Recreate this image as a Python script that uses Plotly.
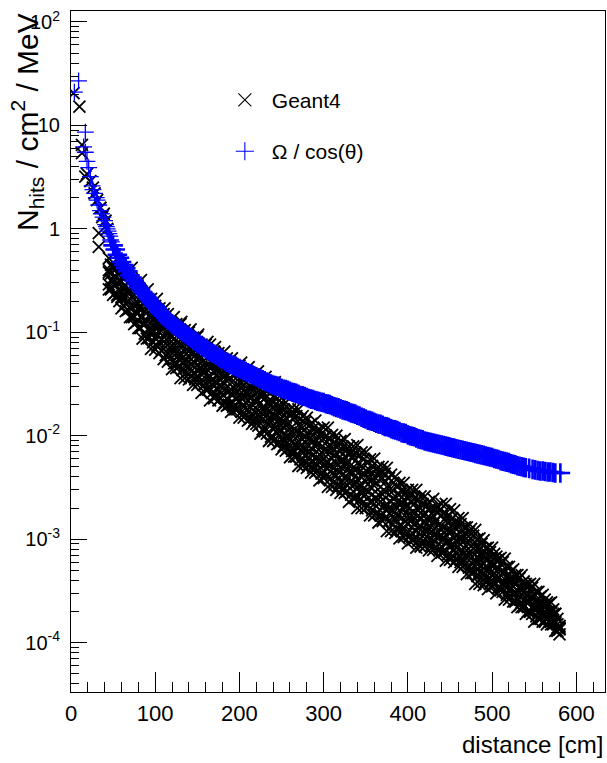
import plotly.graph_objects as go

# ---------------- data ----------------
# Geant4: sparse points at small distance
g4_near_dist = [3, 10, 13, 13, 17, 19, 23, 26, 28, 31, 33, 33, 35, 37, 39, 41, 43]
g4_near_val = [20.5, 15.2, 6.5, 5.4, 3.2, 3.4, 2.9, 2.5, 2.2, 1.9, 0.91, 0.67, 1.6, 1.3, 1.4, 1.2, 1.0]

# Geant4: dense band, five samples per distance (top of band -> bottom of band)
g4_dist = [45, 50, 55, 60, 65, 70, 75, 80, 85, 90, 95, 100,
           105, 110, 115, 120, 125, 130, 135, 140, 145, 150, 155, 160, 165, 170, 175, 180, 185, 190, 195, 200,
           205, 210, 215, 220, 225, 230, 235, 240, 245, 250, 255, 260, 265, 270, 275, 280, 285, 290, 295, 300,
           305, 310, 315, 320, 325, 330, 335, 340, 345, 350, 355, 360, 365, 370, 375, 380, 385, 390, 395, 400,
           405, 410, 415, 420, 425, 430, 435, 440, 445, 450, 455, 460, 465, 470, 475, 480, 485, 490, 495, 500,
           505, 510, 515, 520, 525, 530, 535, 540, 545, 550, 555, 560, 565, 570, 575, 580]
g4_row1 = [5.2e-1, 4.4e-1, 4.2e-1, 4.1e-1, 3.4e-1, 3.2e-1, 2.7e-1, 2.7e-1, 2.2e-1, 2.1e-1, 2.1e-1, 1.8e-1,
           1.7e-1, 1.5e-1, 1.5e-1, 1.2e-1, 1.2e-1, 1.2e-1, 1.05e-1, 1.0e-1, 8.9e-2, 9.1e-2, 7.6e-2, 7.6e-2, 7.6e-2, 6.5e-2, 6.3e-2, 5.5e-2, 5.6e-2, 4.7e-2, 4.7e-2, 4.7e-2,
           3.9e-2, 3.7e-2, 3.2e-2, 3.3e-2, 2.8e-2, 2.8e-2, 2.8e-2, 2.4e-2, 2.3e-2, 2.1e-2, 2.1e-2, 1.8e-2, 1.8e-2, 1.8e-2, 1.55e-2, 1.5e-2, 1.3e-2, 1.4e-2, 1.15e-2, 1.2e-2,
           1.2e-2, 1.02e-2, 1.0e-2, 8.9e-3, 9.3e-3, 7.9e-3, 7.9e-3, 8.1e-3, 6.9e-3, 6.9e-3, 5.9e-3, 6.0e-3, 5.0e-3, 5.0e-3, 4.9e-3, 4.2e-3, 4.0e-3, 3.5e-3, 3.5e-3, 3.0e-3,
           3.0e-3, 3.0e-3, 2.6e-3, 2.6e-3, 2.3e-3, 2.45e-3, 2.1e-3, 2.2e-3, 2.2e-3, 1.95e-3, 1.9e-3, 1.6e-3, 1.6e-3, 1.3e-3, 1.26e-3, 1.23e-3, 1.02e-3, 9.8e-4, 8.3e-4, 8.3e-4,
           6.8e-4, 6.6e-4, 6.5e-4, 5.4e-4, 5.1e-4, 4.5e-4, 4.5e-4, 3.7e-4, 3.7e-4, 3.7e-4, 3.1e-4, 2.9e-4, 2.45e-4, 2.45e-4, 1.9e-4, 1.4e-4]
g4_row2 = [4.0e-1, 4.2e-1, 3.7e-1, 3.1e-1, 2.8e-1, 2.4e-1, 2.3e-1, 1.9e-1, 1.9e-1, 1.8e-1, 1.5e-1, 1.4e-1,
           1.2e-1, 1.2e-1, 1.05e-1, 1.05e-1, 1.0e-1, 8.5e-2, 8.1e-2, 7.1e-2, 7.2e-2, 6.3e-2, 6.5e-2, 6.2e-2, 5.2e-2, 5.0e-2, 4.4e-2, 4.5e-2, 3.9e-2, 4.1e-2, 3.9e-2, 3.3e-2,
           3.1e-2, 2.6e-2, 2.7e-2, 2.3e-2, 2.4e-2, 2.3e-2, 2.0e-2, 1.9e-2, 1.7e-2, 1.7e-2, 1.5e-2, 1.55e-2, 1.5e-2, 1.26e-2, 1.2e-2, 1.05e-2, 1.07e-2, 9.3e-3, 9.5e-3, 9.3e-3,
           7.9e-3, 7.8e-3, 6.8e-3, 7.1e-3, 6.3e-3, 6.5e-3, 6.2e-3, 5.4e-3, 5.1e-3, 4.6e-3, 4.6e-3, 4.0e-3, 4.1e-3, 3.9e-3, 3.2e-3, 3.1e-3, 2.6e-3, 2.7e-3, 2.4e-3, 2.45e-3,
           2.3e-3, 2.0e-3, 2.0e-3, 1.8e-3, 1.9e-3, 1.7e-3, 1.8e-3, 1.7e-3, 1.5e-3, 1.5e-3, 1.3e-3, 1.3e-3, 1.1e-3, 1.1e-3, 1.02e-3, 8.5e-4, 8.1e-4, 6.9e-4, 7.1e-4, 6.0e-4,
           6.2e-4, 5.8e-4, 4.8e-4, 4.6e-4, 3.9e-4, 4.0e-4, 3.4e-4, 3.5e-4, 3.3e-4, 2.8e-4, 2.7e-4, 2.3e-4, 2.3e-4, 2.0e-4, 1.9e-4, 1.45e-4]
g4_row3 = [3.8e-1, 3.2e-1, 3.0e-1, 2.4e-1, 2.5e-1, 2.1e-1, 1.8e-1, 1.7e-1, 1.4e-1, 1.3e-1, 1.1e-1, 1.15e-1,
           1.0e-1, 9.1e-2, 8.9e-2, 7.4e-2, 7.2e-2, 6.2e-2, 6.5e-2, 5.8e-2, 5.2e-2, 5.4e-2, 4.5e-2, 4.5e-2, 3.8e-2, 4.1e-2, 3.6e-2, 3.3e-2, 3.4e-2, 2.8e-2, 2.8e-2, 2.5e-2,
           2.5e-2, 2.2e-2, 2.0e-2, 2.1e-2, 1.7e-2, 1.7e-2, 1.5e-2, 1.55e-2, 1.35e-2, 1.26e-2, 1.26e-2, 1.07e-2, 1.05e-2, 8.9e-3, 9.3e-3, 8.3e-3, 7.6e-3, 7.9e-3, 6.6e-3, 6.6e-3,
           5.6e-3, 6.0e-3, 5.4e-3, 5.0e-3, 5.1e-3, 4.4e-3, 4.4e-3, 3.8e-3, 4.0e-3, 3.6e-3, 3.2e-3, 3.3e-3, 2.7e-3, 2.7e-3, 2.2e-3, 2.3e-3, 2.1e-3, 1.9e-3, 1.95e-3, 1.7e-3,
           1.7e-3, 1.45e-3, 1.55e-3, 1.45e-3, 1.35e-3, 1.4e-3, 1.2e-3, 1.26e-3, 1.1e-3, 1.17e-3, 1.02e-3, 9.3e-4, 9.3e-4, 7.8e-4, 7.6e-4, 6.3e-4, 6.5e-4, 5.8e-4, 5.2e-4, 5.5e-4,
           4.5e-4, 4.5e-4, 3.8e-4, 4.0e-4, 3.5e-4, 3.2e-4, 3.2e-4, 2.7e-4, 2.7e-4, 2.3e-4, 2.4e-4, 2.1e-4, 1.9e-4, 1.95e-4, 1.55e-4, 1.35e-4]
g4_row4 = [2.9e-1, 3.0e-1, 2.3e-1, 2.2e-1, 1.9e-1, 1.7e-1, 1.4e-1, 1.3e-1, 1.2e-1, 9.5e-2, 1.0e-1, 8.7e-2,
           8.1e-2, 6.9e-2, 6.3e-2, 6.3e-2, 5.1e-2, 5.4e-2, 4.8e-2, 4.6e-2, 4.0e-2, 3.8e-2, 3.9e-2, 3.2e-2, 3.3e-2, 3.0e-2, 2.8e-2, 2.5e-2, 2.3e-2, 2.5e-2, 2.0e-2, 2.1e-2,
           1.9e-2, 1.8e-2, 1.55e-2, 1.5e-2, 1.5e-2, 1.2e-2, 1.3e-2, 1.15e-2, 1.07e-2, 9.3e-3, 8.9e-3, 9.1e-3, 7.2e-3, 7.6e-3, 6.8e-3, 6.5e-3, 5.6e-3, 5.4e-3, 5.5e-3, 4.6e-3,
           4.8e-3, 4.3e-3, 4.1e-3, 3.6e-3, 3.5e-3, 3.5e-3, 2.9e-3, 3.1e-3, 2.75e-3, 2.7e-3, 2.3e-3, 2.2e-3, 2.2e-3, 1.8e-3, 1.9e-3, 1.7e-3, 1.55e-3, 1.35e-3, 1.3e-3, 1.4e-3,
           1.15e-3, 1.2e-3, 1.12e-3, 1.12e-3, 1.0e-3, 9.8e-4, 1.02e-3, 8.5e-4, 9.1e-4, 8.3e-4, 7.9e-4, 6.9e-4, 6.6e-4, 6.6e-4, 5.2e-4, 5.4e-4, 4.8e-4, 4.7e-4, 4.1e-4, 4.0e-4,
           4.1e-4, 3.4e-4, 3.5e-4, 3.2e-4, 3.0e-4, 2.6e-4, 2.45e-4, 2.5e-4, 2.0e-4, 2.1e-4, 1.95e-4, 1.9e-4, 1.7e-4, 1.6e-4, 1.6e-4, 1.2e-4]
g4_row5 = [2.6e-1, 2.3e-1, 2.2e-1, 1.7e-1, 1.6e-1, 1.4e-1, 1.2e-1, 1.1e-1, 8.7e-2, 8.7e-2, 6.9e-2, 6.8e-2,
           6.3e-2, 5.5e-2, 5.2e-2, 4.4e-2, 4.5e-2, 3.6e-2, 3.6e-2, 3.5e-2, 3.1e-2, 3.1e-2, 2.6e-2, 2.8e-2, 2.2e-2, 2.3e-2, 2.2e-2, 1.95e-2, 1.95e-2, 1.7e-2, 1.8e-2, 1.5e-2,
           1.5e-2, 1.4e-2, 1.3e-2, 1.3e-2, 1.05e-2, 1.1e-2, 8.9e-3, 8.9e-3, 8.3e-3, 7.4e-3, 7.2e-3, 6.2e-3, 6.3e-3, 5.1e-3, 5.1e-3, 4.9e-3, 4.4e-3, 4.4e-3, 3.7e-3, 3.9e-3,
           3.2e-3, 3.2e-3, 3.0e-3, 2.8e-3, 2.8e-3, 2.3e-3, 2.5e-3, 2.0e-3, 2.0e-3, 2.0e-3, 1.7e-3, 1.7e-3, 1.45e-3, 1.5e-3, 1.2e-3, 1.2e-3, 1.15e-3, 1.02e-3, 1.05e-3, 9.1e-4,
           9.8e-4, 8.3e-4, 8.5e-4, 8.5e-4, 7.8e-4, 7.9e-4, 6.9e-4, 7.4e-4, 6.2e-4, 6.3e-4, 6.0e-4, 5.4e-4, 5.4e-4, 4.6e-4, 4.7e-4, 3.7e-4, 3.7e-4, 3.6e-4, 3.3e-4, 3.5e-4,
           3.0e-4, 3.2e-4, 2.6e-4, 2.6e-4, 2.5e-4, 2.2e-4, 2.2e-4, 1.9e-4, 2.0e-4, 1.6e-4, 1.7e-4, 1.6e-4, 1.5e-4, 1.5e-4, 1.3e-4, 1.35e-4]

# Geant4: band samples at the half-way distances (four per distance, top -> bottom)
g4_half_dist = [47.5, 52.5, 57.5, 62.5, 67.5, 72.5, 77.5, 82.5, 87.5, 92.5, 97.5,
                102.5, 107.5, 112.5, 117.5, 122.5, 127.5, 132.5, 137.5, 142.5, 147.5, 152.5, 157.5, 162.5, 167.5, 172.5, 177.5, 182.5, 187.5, 192.5, 197.5,
                202.5, 207.5, 212.5, 217.5, 222.5, 227.5, 232.5, 237.5, 242.5, 247.5, 252.5, 257.5, 262.5, 267.5, 272.5, 277.5, 282.5, 287.5, 292.5, 297.5,
                302.5, 307.5, 312.5, 317.5, 322.5, 327.5, 332.5, 337.5, 342.5, 347.5, 352.5, 357.5, 362.5, 367.5, 372.5, 377.5, 382.5, 387.5, 392.5, 397.5,
                402.5, 407.5, 412.5, 417.5, 422.5, 427.5, 432.5, 437.5, 442.5, 447.5, 452.5, 457.5, 462.5, 467.5, 472.5, 477.5, 482.5, 487.5, 492.5, 497.5,
                502.5, 507.5, 512.5, 517.5, 522.5, 527.5, 532.5, 537.5, 542.5, 547.5, 552.5, 557.5, 562.5, 567.5, 572.5, 577.5]
g4_half1 = [0.45, 0.41, 0.38, 0.33, 0.30, 0.27, 0.24, 0.22, 0.20, 0.19, 0.17,
            0.155, 0.14, 0.13, 0.12, 0.112, 0.105, 0.097, 0.090, 0.083, 0.079, 0.074, 0.069, 0.066, 0.061, 0.056, 0.052, 0.050, 0.046, 0.044, 0.042,
            0.038, 0.033, 0.030, 0.028, 0.027, 0.025, 0.024, 0.022, 0.020, 0.019, 0.018, 0.017, 0.0165, 0.0155, 0.0145, 0.0135, 0.0125, 0.0118, 0.0112, 0.0105,
            0.0100, 0.0093, 0.0087, 0.0080, 0.0078, 0.0074, 0.0070, 0.0068, 0.0064, 0.0059, 0.0055, 0.0051, 0.0047, 0.0045, 0.0043, 0.0039, 0.0035, 0.0032, 0.0030, 0.0028,
            0.0027, 0.0025, 0.0024, 0.0022, 0.0021, 0.0020, 0.0019, 0.0019, 0.0018, 0.0017, 0.0016, 0.00145, 0.0014, 0.0013, 0.00118, 0.00108, 0.00100, 0.00090, 0.00082, 0.00075,
            0.00072, 0.00064, 0.00060, 0.00054, 0.00049, 0.00045, 0.00042, 0.00039, 0.00036, 0.00034, 0.00031, 0.00028, 0.00026, 0.00024, 0.00021, 0.00017]
g4_half2 = [0.37, 0.35, 0.31, 0.27, 0.245, 0.22, 0.195, 0.17, 0.16, 0.145, 0.13,
            0.12, 0.11, 0.10, 0.092, 0.087, 0.080, 0.073, 0.068, 0.063, 0.060, 0.056, 0.053, 0.049, 0.046, 0.043, 0.040, 0.038, 0.035, 0.034, 0.031,
            0.029, 0.026, 0.023, 0.022, 0.020, 0.019, 0.018, 0.017, 0.0155, 0.0145, 0.0138, 0.0128, 0.0122, 0.0112, 0.0105, 0.0100, 0.0093, 0.0088, 0.0082, 0.0078,
            0.0074, 0.0069, 0.0065, 0.0060, 0.0057, 0.0054, 0.0052, 0.0048, 0.0045, 0.0043, 0.0040, 0.0037, 0.0035, 0.0032, 0.0029, 0.0027, 0.0025, 0.0023, 0.0022, 0.0021,
            0.0020, 0.0018, 0.0017, 0.0017, 0.0016, 0.00155, 0.0015, 0.0014, 0.0013, 0.00125, 0.0012, 0.00110, 0.00102, 0.00098, 0.00090, 0.00082, 0.00075, 0.00070, 0.00064, 0.00060,
            0.00056, 0.00052, 0.00047, 0.00043, 0.00040, 0.00037, 0.00034, 0.00031, 0.00030, 0.00027, 0.00025, 0.00024, 0.00022, 0.00020, 0.00019, 0.00015]
g4_half3 = [0.32, 0.29, 0.25, 0.22, 0.20, 0.175, 0.155, 0.14, 0.12, 0.11, 0.10,
            0.095, 0.085, 0.078, 0.072, 0.065, 0.060, 0.057, 0.054, 0.049, 0.046, 0.045, 0.040, 0.037, 0.035, 0.033, 0.030, 0.028, 0.027, 0.025, 0.023,
            0.023, 0.021, 0.019, 0.017, 0.016, 0.0145, 0.0135, 0.0135, 0.012, 0.0112, 0.0105, 0.0098, 0.0088, 0.0082, 0.0080, 0.0075, 0.0069, 0.0065, 0.0061, 0.0057,
            0.0055, 0.0052, 0.0049, 0.0045, 0.0042, 0.0040, 0.0036, 0.0034, 0.0033, 0.0031, 0.0029, 0.0027, 0.0025, 0.0023, 0.0021, 0.0020, 0.0019, 0.0017, 0.0016, 0.0015,
            0.0015, 0.0014, 0.0013, 0.00128, 0.00122, 0.00117, 0.0011, 0.00105, 0.0010, 0.00095, 0.00090, 0.00083, 0.00078, 0.00074, 0.00068, 0.00062, 0.00058, 0.00055, 0.00050, 0.00047,
            0.00046, 0.00042, 0.00038, 0.00036, 0.00034, 0.00030, 0.00028, 0.00026, 0.00024, 0.00022, 0.00021, 0.00020, 0.00019, 0.00018, 0.00016, 0.00014]
g4_half4 = [0.26, 0.24, 0.20, 0.18, 0.165, 0.14, 0.125, 0.11, 0.097, 0.088, 0.08,
            0.074, 0.066, 0.060, 0.055, 0.050, 0.046, 0.043, 0.041, 0.038, 0.035, 0.033, 0.031, 0.028, 0.026, 0.025, 0.023, 0.021, 0.020, 0.019, 0.018,
            0.017, 0.016, 0.0145, 0.014, 0.0125, 0.0115, 0.0105, 0.0098, 0.0093, 0.0085, 0.0080, 0.0075, 0.0071, 0.0063, 0.0059, 0.0057, 0.0053, 0.0049, 0.0046, 0.0043,
            0.0041, 0.0038, 0.0036, 0.0033, 0.0031, 0.0029, 0.0027, 0.0025, 0.0024, 0.0023, 0.0021, 0.0019, 0.0018, 0.0017, 0.0016, 0.0015, 0.0014, 0.00125, 0.0012, 0.0011,
            0.00107, 0.00100, 0.00097, 0.00095, 0.00090, 0.00087, 0.00083, 0.00078, 0.00075, 0.00071, 0.00069, 0.00064, 0.00060, 0.00057, 0.00053, 0.00047, 0.00044, 0.00042, 0.00039, 0.00037,
            0.00036, 0.00034, 0.00031, 0.00029, 0.00028, 0.00025, 0.00023, 0.00022, 0.00020, 0.00019, 0.00018, 0.00017, 0.00016, 0.00016, 0.00015, 0.00013]

# Geant4: points poking out above the analytic band
g4_top_dist = [72, 83, 91, 102, 111, 122, 131, 142, 151, 162, 171, 182, 191, 202, 211, 222, 231, 242]
g4_top_val = [4.2e-1, 3.2e-1, 2.6e-1, 2.1e-1, 1.7e-1, 1.4e-1, 1.26e-1, 1.07e-1, 9.5e-2, 8.1e-2, 7.2e-2,
              6.5e-2, 5.6e-2, 5.1e-2, 4.6e-2, 4.2e-2, 3.7e-2, 3.3e-2]

# Omega / cos(theta)
om_near_dist = [4, 9, 15, 17, 17, 19, 21, 23, 25, 26, 28, 30, 31, 33, 35, 36, 38, 40, 41, 42, 43, 44, 45, 46, 47, 48]
om_near_val = [21, 27, 6.2, 8.6, 5.5, 4.5, 3.9, 3.2, 2.6, 2.4, 2.2, 2.0, 1.9, 1.7, 1.5, 1.4, 1.3, 1.2, 1.1,
               1.05, 1.0, 0.95, 0.9, 0.85, 0.78, 0.75]
om_dist = [50, 52.5, 55, 57.5, 60, 62.5, 65, 67.5, 70, 72.5, 75, 77.5, 80, 82.5, 85, 87.5, 90, 92.5, 95, 97.5,
           100, 102.5, 105, 107.5, 110, 112.5, 115, 117.5, 120, 122.5, 125, 127.5, 130, 132.5, 135, 137.5, 140, 142.5, 145, 147.5,
           150, 152.5, 155, 157.5, 160, 162.5, 165, 167.5, 170, 172.5, 175, 177.5, 180, 182.5, 185, 187.5, 190, 192.5, 195, 197.5,
           200, 202.5, 205, 207.5, 210, 212.5, 215, 217.5, 220, 222.5, 225, 227.5, 230, 232.5, 235, 237.5, 240, 242.5, 245, 247.5,
           250, 252.5, 255, 257.5, 260, 262.5, 265, 267.5, 270, 272.5, 275, 277.5, 280, 282.5, 285, 287.5, 290, 292.5, 295, 297.5,
           300, 302.5, 305, 307.5, 310, 312.5, 315, 317.5, 320, 322.5, 325, 327.5, 330, 332.5, 335, 337.5, 340, 342.5, 345, 347.5,
           350, 352.5, 355, 357.5, 360, 362.5, 365, 367.5, 370, 372.5, 375, 377.5, 380, 382.5, 385, 387.5, 390, 392.5, 395, 397.5,
           400, 402.5, 405, 407.5, 410, 412.5, 415, 417.5, 420, 422.5, 425, 427.5, 430, 432.5, 435, 437.5, 440, 442.5, 445, 447.5,
           450, 452.5, 455, 457.5, 460, 462.5, 465, 467.5, 470, 472.5, 475, 477.5, 480, 482.5, 485, 487.5, 490, 492.5, 495, 497.5,
           500, 502.5, 505, 507.5, 510, 512.5, 515, 517.5, 520, 522.5, 525, 527.5, 530, 532.5, 535, 537.5, 540,
           544, 548, 551, 554, 557, 560, 563, 566, 569, 572, 575, 581]
om_val = [0.692, 0.631, 0.562, 0.525, 0.479, 0.447, 0.417, 0.389, 0.355, 0.339, 0.316, 0.295, 0.275, 0.263, 0.245, 0.234, 0.219, 0.209, 0.195, 0.186,
          0.178, 0.170, 0.158, 0.151, 0.145, 0.138, 0.132, 0.126, 0.120, 0.116, 0.112, 0.108, 0.105, 0.101, 0.0977, 0.0944, 0.0912, 0.0881, 0.0851, 0.0822,
          0.0794, 0.0767, 0.0741, 0.0716, 0.0692, 0.0668, 0.0646, 0.0631, 0.0617, 0.0596, 0.0575, 0.0562, 0.0550, 0.0531, 0.0513, 0.0501, 0.0490, 0.0479, 0.0468, 0.0457,
          0.0447, 0.0437, 0.0427, 0.0417, 0.0407, 0.0398, 0.0389, 0.0380, 0.0372, 0.0363, 0.0355, 0.0347, 0.0339, 0.0331, 0.0324, 0.0316, 0.0309, 0.0305, 0.0302, 0.0295,
          0.0288, 0.0282, 0.0279, 0.0275, 0.0269, 0.0263, 0.0260, 0.0257, 0.0251, 0.0245, 0.0243, 0.0240, 0.0234, 0.0229, 0.0226, 0.0224, 0.0219, 0.0216, 0.0214, 0.0211,
          0.0209, 0.0204, 0.0202, 0.0200, 0.0195, 0.0191, 0.0188, 0.0186, 0.0182, 0.0178, 0.0176, 0.0174, 0.0170, 0.0166, 0.0164, 0.0162, 0.0158, 0.0155, 0.0151, 0.0148,
          0.0145, 0.0141, 0.0140, 0.0138, 0.0135, 0.0132, 0.0130, 0.0129, 0.0126, 0.0123, 0.0122, 0.0120, 0.0117, 0.0115, 0.0114, 0.0112, 0.0110, 0.0107, 0.0106, 0.0105,
          0.0102, 0.0100, 0.00989, 0.00977, 0.00955, 0.00933, 0.00923, 0.00912, 0.00891, 0.00881, 0.00871, 0.00861, 0.00851, 0.00841, 0.00832, 0.00822, 0.00813, 0.00804, 0.00794, 0.00785,
          0.00776, 0.00767, 0.00759, 0.00750, 0.00741, 0.00733, 0.00724, 0.00716, 0.00708, 0.00700, 0.00692, 0.00684, 0.00676, 0.00668, 0.00661, 0.00653, 0.00646, 0.00638, 0.00631, 0.00624,
          0.00617, 0.00603, 0.00596, 0.00589, 0.00575, 0.00569, 0.00562, 0.00556, 0.00550, 0.00537, 0.00531, 0.00525, 0.00513, 0.00507, 0.00501, 0.00495, 0.00490,
          0.00484, 0.00473, 0.00468, 0.00462, 0.00457, 0.00457, 0.00452, 0.00447, 0.00447, 0.00442, 0.00437, 0.00437]

series_names = ["Geant4", "Ω / cos(θ)"]
y_tick_vals = [1e-4, 1e-3, 1e-2, 1e-1, 1, 10, 100]
y_tick_text = ["10<sup>-4</sup>", "10<sup>-3</sup>", "10<sup>-2</sup>", "10<sup>-1</sup>", "1", "10", "10<sup>2</sup>"]

for row in (g4_row1, g4_row2, g4_row3, g4_row4, g4_row5):
    assert len(row) == len(g4_dist)
for row in (g4_half1, g4_half2, g4_half3, g4_half4):
    assert len(row) == len(g4_half_dist), len(row)
assert len(om_dist) == len(om_val)
assert len(g4_top_dist) == len(g4_top_val)

# ---------------- figure ----------------
g4_x = list(g4_near_dist) + list(g4_top_dist)
g4_y = list(g4_near_val) + list(g4_top_val)
for row in (g4_row1, g4_row2, g4_row3, g4_row4, g4_row5):
    g4_x += list(g4_dist)
    g4_y += list(row)
for row in (g4_half1, g4_half2, g4_half3, g4_half4):
    g4_x += list(g4_half_dist)
    g4_y += list(row)

FONT = "Liberation Sans, Arial, Helvetica, sans-serif"
BLACK = "black"
BLUE = "#0000ff"

fig = go.Figure()
fig.add_trace(go.Scatter(
    x=g4_x, y=g4_y, mode="markers", name=series_names[0], showlegend=False,
    marker=dict(symbol="x-thin-open", size=12, color=BLACK, line=dict(width=1.8, color=BLACK)),
))
# analytic curve: isolated points near the source drawn thin, dense band drawn heavier
fig.add_trace(go.Scatter(
    x=om_near_dist, y=om_near_val, mode="markers", name=series_names[1], showlegend=False,
    marker=dict(symbol="cross-thin-open", size=12, color=BLUE, line=dict(width=1.3, color=BLUE)),
))
fig.add_trace(go.Scatter(
    x=om_dist, y=om_val, mode="markers", name=series_names[1], showlegend=False,
    marker=dict(symbol="cross-thin-open", size=14, color=BLUE, line=dict(width=2.6, color=BLUE)),
))
# legend-only entries (thin symbols, as in the reference key)
fig.add_trace(go.Scatter(
    x=[None], y=[None], mode="markers", name=series_names[0], legendgroup="g4",
    marker=dict(symbol="x-thin-open", size=13, color=BLACK, line=dict(width=1.1, color=BLACK)),
))
fig.add_trace(go.Scatter(
    x=[None], y=[None], mode="markers", name=series_names[1], legendgroup="om",
    marker=dict(symbol="cross-thin-open", size=13, color=BLUE, line=dict(width=1.1, color=BLUE)),
))

y_minor = []
for e in range(-5, 3):
    for m in range(2, 10):
        y_minor.append(m * 10.0 ** e)

fig.update_layout(
    width=607, height=763,
    margin=dict(l=71, r=2, t=11, b=71),
    paper_bgcolor="white", plot_bgcolor="white",
    font=dict(family=FONT, color="black"),
    showlegend=True,
    legend=dict(x=0.275, y=0.899, xanchor="left", yanchor="top",
                bgcolor="rgba(0,0,0,0)", borderwidth=0, itemwidth=44,
                font=dict(family=FONT, size=21, color="black"),
                traceorder="grouped", tracegroupgap=21),
    xaxis=dict(
        range=[0, 634], tick0=0, dtick=100,
        ticks="inside", ticklen=20, tickwidth=1, tickcolor="black",
        showline=True, linecolor="black", linewidth=1, mirror=True,
        showgrid=False, zeroline=False,
        tickfont=dict(family=FONT, size=22, color="black"),
        ticklabelstandoff=2,
        minor=dict(ticks="inside", ticklen=10, tick0=0, dtick=20, tickcolor="black", tickwidth=1, showgrid=False),
    ),
    yaxis=dict(
        type="log", range=[-4.477, 2.106],
        tickmode="array", tickvals=y_tick_vals, ticktext=y_tick_text,
        ticks="inside", ticklen=16, tickwidth=1, tickcolor="black",
        showline=True, linecolor="black", linewidth=1, mirror=True,
        showgrid=False, zeroline=False,
        tickfont=dict(family=FONT, size=20, color="black"),
        ticklabelstandoff=6,
        minor=dict(tickmode="array", tickvals=y_minor, ticks="inside", ticklen=8,
                   tickcolor="black", tickwidth=1, showgrid=False),
    ),
    annotations=[
        dict(text="distance [cm]", xref="paper", yref="paper", x=1.0, y=-0.0764,
             xanchor="right", yanchor="middle", showarrow=False,
             font=dict(family=FONT, size=24, color="black")),
        dict(text="N<sub>hits</sub> / cm<sup>2</sup> / MeV", xref="paper", yref="paper",
             x=-0.1255, y=1.0, xanchor="left", yanchor="top", textangle=-90, showarrow=False,
             font=dict(family=FONT, size=30, color="black")),
    ],
)

fig.write_html("out.html")
